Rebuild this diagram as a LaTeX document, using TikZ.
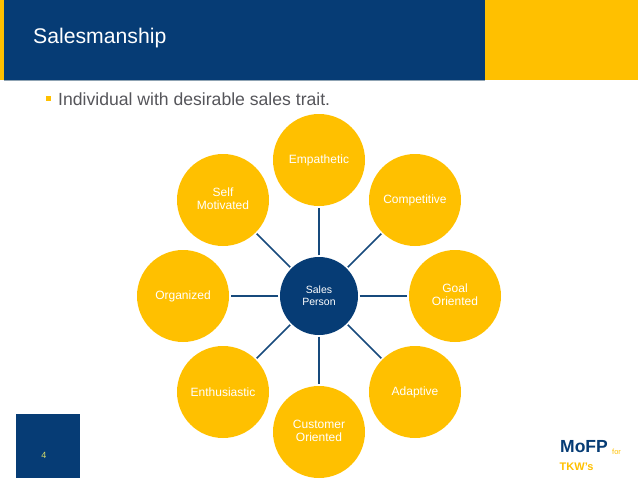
\documentclass[tikz,border=0pt]{standalone}
\usepackage{fontspec}
\setmainfont{Liberation Sans}
\definecolor{navy}{HTML}{063C75}
\definecolor{gold}{HTML}{FFC000}
\definecolor{greytext}{HTML}{55555A}
\definecolor{numcolor}{HTML}{D6DC6A}
\definecolor{rulegrey}{HTML}{8FA3B3}
\definecolor{spokeblue}{HTML}{174A7C}
\tikzset{
  px/.style={x=1pt,y=-1pt},
  petal/.style={circle,fill=gold,minimum size=92pt,inner sep=0pt,text=white,font=\fontsize{12}{13}\selectfont,align=center},
  petaltext/.style={font=\fontsize{12}{13}\selectfont,text=white,align=center,inner sep=0pt},
  hub/.style={circle,fill=navy,minimum size=78pt,inner sep=0pt,text=white,font=\fontsize{10.5}{12}\selectfont,align=center},
  spoke/.style={draw=spokeblue,line width=1.6pt,shorten <=1.5pt,shorten >=1.5pt},
  band/.style={fill=#1,draw=none,inner sep=0pt,anchor=north west}
}
\begin{document}
\begin{tikzpicture}[px]
\useasboundingbox (0,0) rectangle (638,479);
\node[band=gold,minimum width=638pt,minimum height=80pt] (topgold) at (0,0) {};
\node[band=navy,minimum width=481pt,minimum height=80pt] (topblue) at (4,0) {};
\draw[rulegrey,line width=0.8pt] (topblue.south west) -- (topblue.south east);
\node[anchor=west,text=white,font=\fontsize{21.2}{24}\selectfont,inner sep=0pt] (title) at (33,38) {Salesmanship};
\node[fill=gold,minimum size=5.5pt,inner sep=0pt] (bullet) at (48.5,98.5) {};
\node[anchor=west,text=greytext,font=\fontsize{17.6}{22}\selectfont,inner sep=0pt] (bodytext) at (58,99) {Individual with desirable sales trait.};
\node[hub] (c) at (319,296) {Sales\\Person};
\node[petal] (p1) at (319,160) {Empathetic};
\node[petal] (p2) at (415,200) {Competitive};
\node[petal] (p3) at (455,296) {};
\node[petaltext] (p3t) at (455,295) {Goal\\Oriented};
\node[petal] (p4) at (415,392) {Adaptive};
\node[petal] (p5) at (319,432) {};
\node[petaltext] (p5t) at (319,431) {Customer\\Oriented};
\node[petal] (p6) at (223,392) {Enthusiastic};
\node[petal] (p7) at (183,296) {Organized};
\node[petal] (p8) at (223,200) {};
\node[petaltext] (p8t) at (223,198.5) {Self\\Motivated};
\foreach \i in {1,...,8} \draw[spoke] (c) -- (p\i);
\node[band=navy,minimum width=64pt,minimum height=64pt] (pagebox) at (16,414) {};
\node[text=numcolor,font=\fontsize{9}{11}\selectfont,inner sep=0pt] (pagenum) at (44,455) {4};
\node[anchor=west,text=navy,font=\bfseries\fontsize{17.5}{20}\selectfont,inner sep=0pt] (mofp) at (560,447) {MoFP};
\node[anchor=west,text=gold,font=\fontsize{7.5}{8}\selectfont,inner sep=0pt] (forlabel) at (612,452) {for};
\node[anchor=west,text=gold,font=\bfseries\fontsize{11}{13}\selectfont,inner sep=0pt] (tkw) at (559.5,467) {TKW's};
\end{tikzpicture}
\end{document}
